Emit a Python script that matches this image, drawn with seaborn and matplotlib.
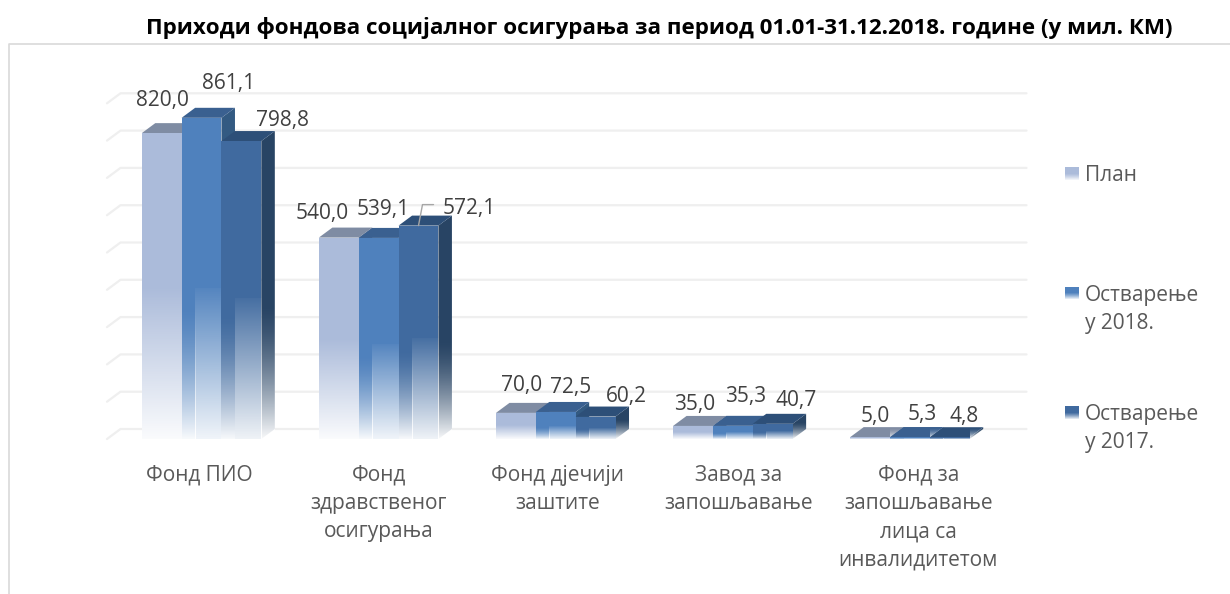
import numpy as np
import pandas as pd
import matplotlib
matplotlib.use('Agg')
import matplotlib.pyplot as plt
from matplotlib.lines import Line2D
from matplotlib.patches import Polygon
import seaborn as sns

# data
funds = ['Фонд ПИО', 'Фонд\nздравственог\nосигурања', 'Фонд дјечији\nзаштите',
         'Завод за\nзапошљавање', 'Фонд за\nзапошљавање\nлица са\nинвалидитетом']
series = ['План', 'Остварење\nу 2018.', 'Остварење\nу 2017.']
plan = [820.0, 540.0, 70.0, 35.0, 5.0]
real_2018 = [861.1, 539.1, 72.5, 35.3, 5.3]
real_2017 = [798.8, 572.1, 60.2, 40.7, 4.8]
grid_values = [0, 100, 200, 300, 400, 500, 600, 700, 800, 900]

title = 'Приходи фондова социјалног осигурања за период 01.01-31.12.2018. године (у мил. КМ)'

# label offsets from the top of each bar, in pixels (one row per series)
label_offsets = [
    [(1, 33), (-17, 24), (6, 27), (2, 21), (5, 21)],
    [(27, 34), (5, 28), (15, 24), (13, 29), (12, 23)],
    [(41, 21), (51, 17), (31, 20), (23, 23), (14, 21)],
]
cat_shift = [-2.6, 0, 2.2, 6, 8.4]

front = ['#abbbda', '#4f81bd', '#406a9f']
top_c = ['#7f8ca3', '#3a6090', '#2d4f78']
side_c = ['#6f7f9c', '#335a82', '#284464']
txt_dark = '#404040'
txt_grey = '#595959'

sns.set_theme(style='white')
plt.rcParams['font.family'] = ['Open Sans', 'DejaVu Sans']

W, H = 1230, 594
fig = plt.figure(figsize=(W / 100, H / 100), dpi=100)
ax = fig.add_axes([113 / W, (H - 439) / H, 885.5 / W, 335.7 / H])

df = pd.DataFrame({'fund': funds * 3,
                   'kind': np.repeat(series, 5),
                   'value': plan + real_2018 + real_2017})
sns.barplot(data=df, x='fund', y='value', hue='kind', hue_order=series, palette=front,
            width=0.675, gap=0, saturation=1, legend=False, linewidth=0, ax=ax)

ax.set_xlim(-0.5, 4.5)
ax.set_ylim(0, 900)
px_x = 1 / 177.1
px_y = 900 / 335.7
dx, dy = 13.5 * px_x, 10 * px_y


def fade(x0, x1, y0, y1, a_top, a_bot, power, z, clip=None):
    # white veil going from a_top (at y1) to a_bot (at y0)
    t = np.linspace(0, 1, 128) ** power
    img = np.ones((128, 1, 4))
    img[:, 0, 3] = a_top + (a_bot - a_top) * t
    im = ax.imshow(img, extent=(x0, x1, y0, y1), origin='upper', aspect='auto',
                   zorder=z, interpolation='bilinear')
    im.set_clip_on(clip is None)
    if clip is not None:
        im.set_clip_path(clip)


# back wall grid
for v in grid_values:
    ax.plot([-0.5 - 6 * px_x, -0.5 - 6 * px_x + dx, 4.5 + 28 * px_x],
            [v, v + dy, v + dy], color='#efefef', lw=1.6, zorder=1, clip_on=False)

# fake 3D boxes
for k, cont in enumerate(ax.containers):
    for i, bar in enumerate(cont):
        x0, x1 = bar.get_x(), bar.get_x() + bar.get_width()
        h = bar.get_height()
        # later bars sit on top of earlier ones inside a group
        z = 3 + k + i * 3
        bar.set_zorder(z + 0.3)
        side = Polygon([(x1, 0), (x1 + dx, dy), (x1 + dx, h + dy), (x1, h)],
                       fc=side_c[k], ec='none', zorder=z, clip_on=False)
        top = Polygon([(x0, h), (x0 + dx, h + dy), (x1 + dx, h + dy), (x1, h)],
                      fc=top_c[k], ec='none', zorder=z + 0.1, clip_on=False)
        ax.add_patch(side)
        ax.add_patch(top)
        fade(x1, x1 + dx, 0, h * 0.42 + dy, 0, 0.97, 1.5, z + 0.2, clip=side)
        if k == 0:
            fade(x0, x1, 0, h * 0.5, 0, 0.95, 1.0, z + 0.4)
        else:
            # left strip keeps colour longer, the rest looks reflected
            fade(x0, x0 + dx, 0, h * 0.42, 0, 0.96, 1.5, z + 0.4)
            fade(x0 + dx, x1, 0, h * 0.47, 0.04, 0.92, 1.0, z + 0.4)

        off = label_offsets[k][i]
        ax.annotate(f'{h:.1f}'.replace('.', ','), xy=(bar.get_x() + bar.get_width() / 2, h),
                    xytext=off, textcoords='offset pixels', ha='center', va='center',
                    fontsize=15, color=txt_dark, zorder=40, annotation_clip=False)

# leader line of the 572,1 label
bar = ax.containers[2][1]
cx, h = bar.get_x() + bar.get_width() / 2, bar.get_height()
ax.plot([cx, cx + 4 * px_x, cx + 15 * px_x], [h, h + 21 * px_y, h + 21 * px_y],
        color='#a6a6a6', lw=1, zorder=39, clip_on=False)

sns.despine(ax=ax, left=True, bottom=True)
ax.set_xticks([])
ax.set_yticks([])
ax.set_xlabel('')
ax.set_ylabel('')
ax.patch.set_alpha(0)

# category labels
for i, name in enumerate(funds):
    ax.annotate(name, xy=(i, 0), xytext=(cat_shift[i], -25.5), textcoords='offset pixels',
                ha='center', va='top', fontsize=15, color=txt_grey, linespacing=1.46,
                annotation_clip=False)

# legend by hand, the swatch sits on the first text line
for k, name in enumerate(series):
    y_mid = 174 + k * 119.5
    sw = fig.add_axes([1065 / W, (H - y_mid - 7) / H, 14 / W, 14 / H])
    col = matplotlib.colors.to_rgb(front[k])
    img = np.ones((14, 1, 3)) * col
    for r in range(14):
        a = max(0, (r - 6) / 7) ** 1.2
        img[r, 0] = img[r, 0] * (1 - a) + a
    sw.imshow(img, aspect='auto', interpolation='bilinear')
    sw.axis('off')
    fig.text(1085 / W, (H - y_mid + 9) / H, name, ha='left', va='top',
             fontsize=15, color=txt_grey, linespacing=1.46)

fig.text(659.5 / W, (H - 28) / H, title, ha='center', va='center', fontsize=16.1,
         fontweight='bold', color='black')

# chart frame (only the top and left show in the source)
fig.add_artist(Line2D([8.5 / W, 8.5 / W, 1], [0, (H - 43.5) / H, (H - 43.5) / H],
                      color='#d9d9d9', lw=1.2))

plt.savefig('out.png', dpi=100)
